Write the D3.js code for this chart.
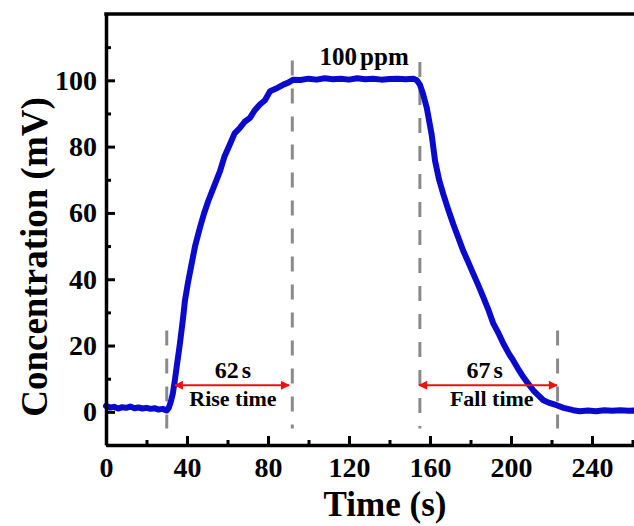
<!DOCTYPE html>
<html>
<head>
<meta charset="utf-8">
<script src="https://cdn.jsdelivr.net/npm/d3@7"></script>
<style>
    body { margin: 0; background: #fff; overflow: hidden; }
    svg { display: block; }
    text { font-family: "Liberation Serif", "Times New Roman", serif; font-weight: bold; fill: #000; }
</style>
</head>
<body>
<div id="svg-container"></div>
<script>
// response curve
var time = [0, 2, 4, 6, 8, 10, 12, 14, 16, 18, 20, 22, 24, 26, 28, 30,
    31, 32, 33, 34, 35, 36.5, 38, 39, 40.5, 42.3, 44, 46.4, 48.5, 50.5, 53, 56.3, 58.5, 61.2,
    63.5, 66.2, 68.5, 71.1, 73.5, 76, 78.5, 81, 84, 87.6, 90, 92.5,
    96, 100, 104, 108, 112, 116, 120, 124, 128, 132, 136, 140, 144, 148, 151.8,
    153.5, 155, 156.5, 158.4, 160.8, 162.5, 164.5, 166.6, 169, 171.5, 174, 176.4, 179, 181.4,
    184, 186.3, 189, 191.3, 194, 196.2, 199, 201.1, 204, 206.1, 208.5, 211, 213.5, 216, 219,
    222.5, 226, 230.7, 234, 238, 242, 246, 250, 254, 258, 262, 266, 270];
var conc = [1.8, 1.3, 1.5, 1.0, 1.4, 1.2, 1.6, 1.1, 1.3, 1.0, 1.2, 0.9, 1.1, 0.7, 0.9, 0.4,
    1.2, 3.0, 5.5, 9.5, 14, 20.6, 28, 33.6, 39, 44.7, 50, 55.6, 60, 63.6, 67.5, 72.6, 77, 80.7,
    84, 85.7, 87.5, 88.7, 91, 92.7, 94, 96.7, 97.5, 98.7, 99.3, 100.2,
    100.1, 100.5, 100.2, 100.6, 100.3, 100.5, 100.2, 100.6, 100.3, 100.5, 100.2, 100.4, 100.5, 100.3, 100.5,
    100, 98.7, 96, 91.7, 83.7, 75.7, 70, 65.6, 61, 56.6, 52.5, 48.6, 45, 41.6,
    38, 34.6, 30.5, 26.6, 23.5, 20.6, 17.5, 15.5, 12.5, 10.5, 8.5, 6.5, 5, 3.5, 2.7,
    2, 1.2, 0.5, 0.2, 0.4, 0.2, 0.5, 0.3, 0.5, 0.3, 0.4, 0.3, 0.4];

var xTicks = [0, 40, 80, 120, 160, 200, 240];
var xMinor = [20, 60, 100, 140, 180, 220, 260];
var yTicks = [0, 20, 40, 60, 80, 100];
var yMinor = [-10, 10, 30, 50, 70, 90, 110];

// dashed guide lines: time, top, bottom
var guideT = [30, 92, 155, 223];
var guideTop = [24.5, 106, 105.5, 24.5];
var guideBottom = -5;

// rise / fall annotations
var spanFrom = [34, 154.6];
var spanTo = [90.4, 222.7];
var spanY = 8;
var spanLabel = ["62", "67"];
var spanName = ["Rise time", "Fall time"];
var spanLabelT = [62.7, 187];
var spanNameT = [62.7, 190.5];

var W = 634, H = 526;
var svg = d3.select("#svg-container").append("svg")
    .attr("width", W)
    .attr("height", H);

var x = d3.scaleLinear().domain([0, 280]).range([106, 106 + 2.025 * 280]);
var y = d3.scaleLinear().domain([-10, 120]).range([445, 14]);

var defs = svg.append("defs");
defs.append("marker")
    .attr("id", "arr")
    .attr("viewBox", "0 0 10 10")
    .attr("refX", 9).attr("refY", 5)
    .attr("markerWidth", 5.5).attr("markerHeight", 4.5)
    .attr("markerUnits", "strokeWidth")
    .attr("orient", "auto-start-reverse")
    .append("path")
    .attr("d", "M0,0L10,5L0,10z")
    .style("fill", "#ee1111");

// dashed guides
for (var i = 0; i < guideT.length; i++) {
    svg.append("line")
        .attr("x1", x(guideT[i])).attr("x2", x(guideT[i]))
        .attr("y1", y(guideTop[i])).attr("y2", y(guideBottom))
        .style("stroke", "#8a8a8a")
        .style("stroke-width", 3)
        .style("stroke-dasharray", "15,13");
}

// curve
var line = d3.line()
    .x(function (d, i) { return x(time[i]); })
    .y(function (d) { return y(d); });

svg.append("path")
    .datum(conc)
    .attr("d", line)
    .style("fill", "none")
    .style("stroke", "#0a0acc")
    .style("stroke-width", 6)
    .style("stroke-linejoin", "round")
    .style("stroke-linecap", "round");

// red arrows + labels
for (var j = 0; j < spanFrom.length; j++) {
    svg.append("line")
        .attr("x1", x(spanFrom[j])).attr("x2", x(spanTo[j]))
        .attr("y1", y(spanY)).attr("y2", y(spanY))
        .style("stroke", "#ee1111")
        .style("stroke-width", 2)
        .attr("marker-start", "url(#arr)")
        .attr("marker-end", "url(#arr)");

    var lab = svg.append("text")
        .attr("x", x(spanLabelT[j]))
        .attr("y", y(spanY) - 7)
        .attr("text-anchor", "middle")
        .style("font-size", "24px");
    lab.append("tspan").text(spanLabel[j]);
    lab.append("tspan").attr("dx", 3).text("s");

    svg.append("text")
        .attr("x", x(spanNameT[j]))
        .attr("y", y(spanY) + 21)
        .attr("text-anchor", "middle")
        .style("font-size", "22px")
        .text(spanName[j]);
}

var ppm = svg.append("text")
    .attr("x", x(127.5))
    .attr("y", 65)
    .attr("text-anchor", "middle")
    .style("font-size", "25px");
ppm.append("tspan").text("100");
ppm.append("tspan").attr("dx", 3).text("ppm");

// axes
var xAxis = svg.append("g")
    .attr("transform", "translate(0," + y(-10) + ")")
    .call(d3.axisBottom(x).tickValues(xTicks).tickSize(-9).tickSizeOuter(0).tickPadding(12));
svg.append("g")
    .attr("transform", "translate(0," + y(-10) + ")")
    .call(d3.axisBottom(x).tickValues(xMinor).tickSize(-5).tickFormat(""))
    .select(".domain").remove();

var yAxis = svg.append("g")
    .attr("transform", "translate(" + x(0) + ",0)")
    .call(d3.axisLeft(y).tickValues(yTicks).tickSize(-9).tickSizeOuter(0).tickPadding(9));
svg.append("g")
    .attr("transform", "translate(" + x(0) + ",0)")
    .call(d3.axisLeft(y).tickValues(yMinor).tickSize(-5).tickFormat(""))
    .select(".domain").remove();

svg.selectAll(".tick line").style("stroke", "#000").style("stroke-width", 3);
svg.selectAll(".domain").style("stroke", "#000").style("stroke-width", 3.5);
svg.selectAll(".tick text")
    .style("font-family", '"Liberation Serif", "Times New Roman", serif')
    .style("font-weight", "bold")
    .style("font-size", "28px")
    .style("fill", "#000");
xAxis.selectAll(".tick text").attr("dy", "0.71em");

// top frame line
svg.append("line")
    .attr("x1", x(0) - 1.75).attr("x2", W + 10)
    .attr("y1", y(120)).attr("y2", y(120))
    .style("stroke", "#000")
    .style("stroke-width", 3.5);

// titles
svg.append("text")
    .attr("x", 385)
    .attr("y", 516)
    .attr("text-anchor", "middle")
    .style("font-size", "35px")
    .text("Time (s)");

svg.append("text")
    .attr("transform", "translate(47," + 257 + ") rotate(-90)")
    .attr("text-anchor", "middle")
    .style("font-size", "37px")
    .text("Concentration (mV)");
</script>
</body>
</html>
